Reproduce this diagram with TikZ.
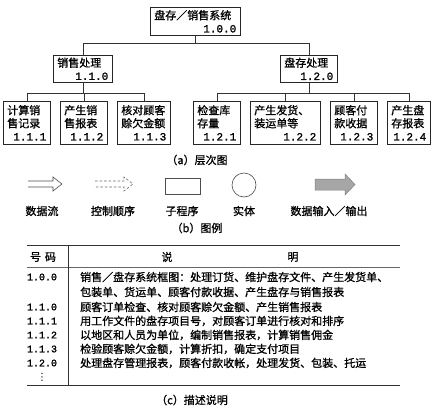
\documentclass[tikz,border=0pt]{standalone}
\usepackage{fontspec}
\setmainfont{Noto Sans CJK SC}[FakeBold=1]
\newfontfamily\numfont{Liberation Mono}[FakeBold=1.5]
\newfontfamily\symfont{DejaVu Sans}
\newcommand{\nm}[1]{{\numfont #1}}
\begin{document}
\begin{tikzpicture}[x=1pt,y=-1pt,
  box/.style={draw=black!85, line width=0.6pt, inner xsep=4pt, inner ysep=1pt, align=left,
    anchor=north west, font=\fontsize{11}{13}\selectfont},
  conn/.style={draw=black!80, line width=0.6pt},
  lbl/.style={font=\fontsize{11}{13}\selectfont, inner sep=0pt},
  capt/.style={font=\fontsize{11}{13}\selectfont, inner sep=0pt},
  rowtxt/.style={font=\fontsize{11}{13}\selectfont, inner sep=0pt, anchor=west},
  rownum/.style={font=\fontsize{10}{12}\selectfont\numfont, inner sep=0pt},
  tabrule/.style={draw=black!80, line width=0.8pt}
]
\useasboundingbox (0,0) rectangle (436,412);
% hierarchy
\node[box, minimum width=90pt, text width=82pt, minimum height=28pt] (root) at (150,7)
  {盘存／销售系统\\\hspace*{\fill}\nm{1.0.0}};
\node[box, minimum width=59pt, text width=51pt, minimum height=27pt] (s1) at (53,55)
  {销售处理\\\hspace*{\fill}\nm{1.1.0}};
\node[box, minimum width=57pt, text width=49pt, minimum height=27pt] (s2) at (280,55)
  {盘存处理\\\hspace*{\fill}\nm{1.2.0}};
\node[box, minimum width=47pt, text width=39pt, minimum height=43pt] (l1) at (3,101)
  {计算销\\售记录\\\hspace*{\fill}\nm{1.1.1}};
\node[box, minimum width=47pt, text width=39pt, minimum height=43pt] (l2) at (60,101)
  {产生销\\售报表\\\hspace*{\fill}\nm{1.1.2}};
\node[box, minimum width=53pt, text width=45pt, minimum height=43pt] (l3) at (117,101)
  {核对顾客\\赊欠金额\\\hspace*{\fill}\nm{1.1.3}};
\node[box, minimum width=47pt, text width=39pt, minimum height=43pt] (r1) at (193,101)
  {检查库\\存量\\\hspace*{\fill}\nm{1.2.1}};
\node[box, minimum width=70pt, text width=62pt, minimum height=43pt] (r2) at (250,101)
  {产生发货、\\装运单等\\\hspace*{\fill}\nm{1.2.2}};
\node[box, minimum width=47pt, text width=39pt, minimum height=43pt] (r3) at (330,101)
  {顾客付\\款收据\\\hspace*{\fill}\nm{1.2.3}};
\node[box, minimum width=43pt, text width=35pt, minimum height=43pt] (r4) at (387,101)
  {产生盘\\存报表\\\hspace*{\fill}\nm{1.2.4}};
\coordinate (bus0) at (0,43);
\coordinate (bus1) at (0,93);
\draw[conn] (root.south) -- (root.south |- bus0) -| (s1.north);
\draw[conn] (root.south) -- (root.south |- bus0) -| (s2.north);
\foreach \c in {l1,l2,l3} \draw[conn] (s1.south) -- (s1.south |- bus1) -| (\c.north);
\foreach \c in {r1,r2,r3,r4} \draw[conn] (s2.south) -- (s2.south |- bus1) -| (\c.north);
\node[capt] (capa) at (197,160) {（a）层次图};
% legend
\draw[black!70, line width=0.6pt] (28,181) -- (53,181) -- (53,177) -- (62,184) -- (53,191) -- (53,187) -- (28,187);
\draw[black!60, line width=0.6pt, dash pattern=on 2.5pt off 2pt] (95,181) -- (124,181) -- (124,177) -- (133,184) -- (124,191) -- (124,187) -- (95,187);
\draw[black!70, line width=0.6pt] (165,178) rectangle (200,194);
\draw[black!70, line width=0.6pt] (244,185) circle (12);
\draw[black!50, fill=black!35, line width=0.5pt] (315,179) -- (345,179) -- (345,174) -- (355,184.5) -- (345,195) -- (345,190) -- (315,190) -- cycle;
\node[lbl] (t1) at (42,211) {数据流};
\node[lbl] (t2) at (113,211) {控制顺序};
\node[lbl] (t3) at (182,211) {子程序};
\node[lbl] (t4) at (244,211) {实体};
\node[lbl] (t5) at (329,211) {数据输入／输出};
\node[capt] (capb) at (197,228) {（b）图例};
% table
\draw[tabrule] (27,245) -- (400,245);
\draw[draw=black!60, line width=0.5pt] (27,267) -- (400,267);
\draw[tabrule] (27,385) -- (400,385);
\draw[draw=black!80, line width=0.6pt] (68,245) -- (68,385);
\node[lbl] (h1) at (43,257) {号\hspace{4pt}码};
\node[lbl] (h2) at (167,257) {说};
\node[lbl] (h3) at (293,257) {明};
\node[rownum] (n1) at (42,277) {1.0.0};
\node[rownum] (n2) at (42,307) {1.1.0};
\node[rownum] (n3) at (42,321) {1.1.1};
\node[rownum] (n4) at (42,335) {1.1.2};
\node[rownum] (n5) at (42,349) {1.1.3};
\node[rownum] (n6) at (42,363) {1.2.0};
\node[lbl, font=\fontsize{10}{12}\selectfont\symfont] (n7) at (42,377) {⋮};
\node[rowtxt] (d1) at (80,277) {销售／盘存系统框图：处理订货、维护盘存文件、产生发货单、};
\node[rowtxt] (d1b) at (80,292) {包装单、货运单、顾客付款收据、产生盘存与销售报表};
\node[rowtxt] (d2) at (80,307) {顾客订单检查、核对顾客赊欠金额、产生销售报表};
\node[rowtxt] (d3) at (80,321) {用工作文件的盘存项目号，对顾客订单进行核对和排序};
\node[rowtxt] (d4) at (80,335) {以地区和人员为单位，编制销售报表，计算销售佣金};
\node[rowtxt] (d5) at (80,349) {检验顾客赊欠金额，计算折扣，确定支付项目};
\node[rowtxt] (d6) at (80,363) {处理盘存管理报表，顾客付款收帐，处理发货、包装、托运};
\node[capt] (capc) at (192,400) {（c）描述说明};
\end{tikzpicture}
\end{document}
